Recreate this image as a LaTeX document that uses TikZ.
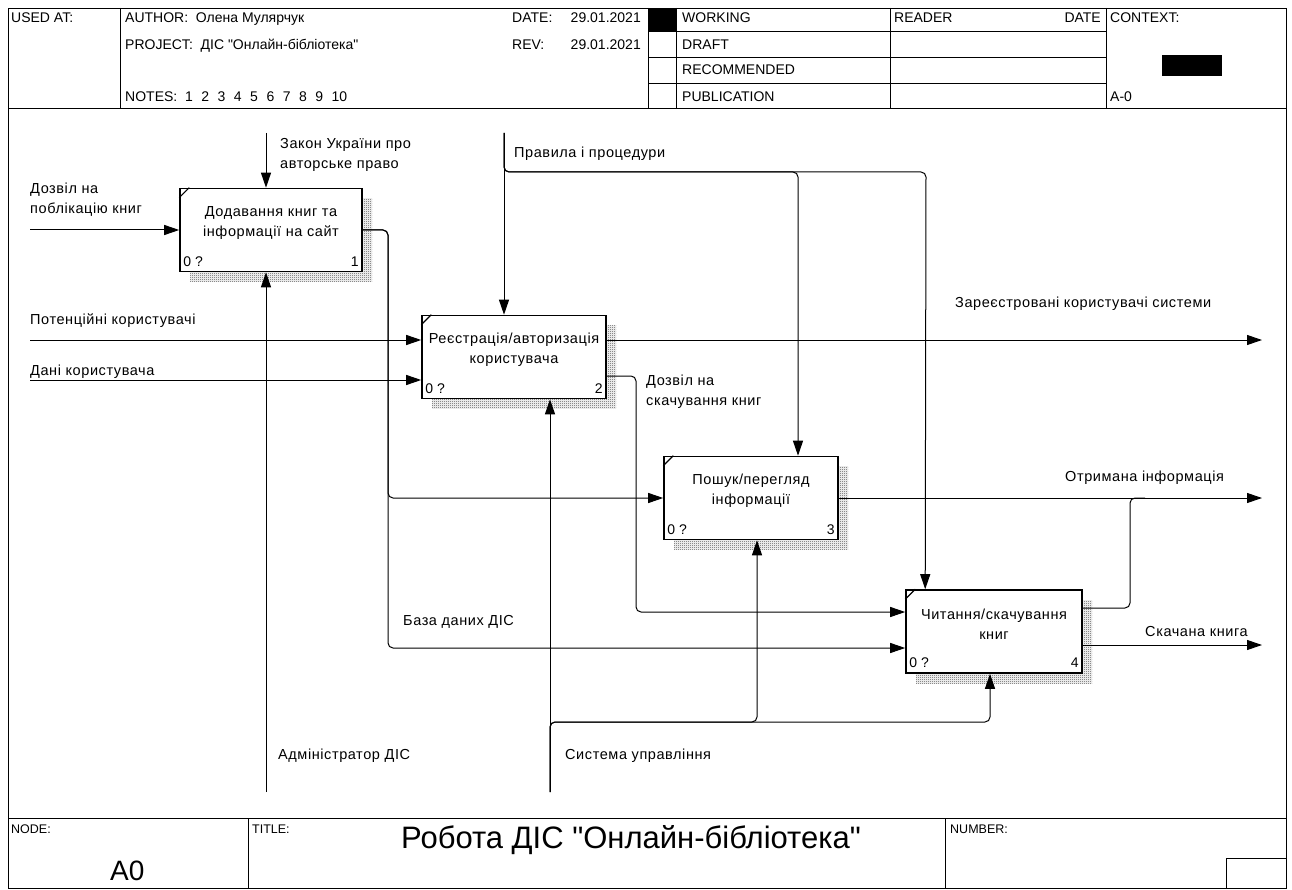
\documentclass[tikz,border=0pt]{standalone}
\usepackage{fontspec}
\setmainfont{Liberation Sans}[Ligatures = TeXOff]
\newfontfamily\diagfont{Liberation Sans}[Ligatures = TeXOff, LetterSpace = 4]
\usetikzlibrary{arrows.meta, patterns, shadows}

\pgfdeclarepatternformonly{idefshade}{\pgfpointorigin}{\pgfpoint{2pt}{2pt}}{\pgfpoint{2pt}{2pt}}{
	\pgfpathrectangle{\pgfpointorigin}{\pgfpoint{1pt}{1pt}}
	\pgfpathrectangle{\pgfpoint{1pt}{1pt}}{\pgfpoint{1pt}{1pt}}
	\pgfusepath{fill}
}

\begin{document}
\begin{tikzpicture}[x = 1pt, y = -1pt, > = {Triangle[length = 15pt, width = 10pt]},
	every node/.style = {font = \fontsize{14}{19}\selectfont, inner sep = 0pt},
	fn/.style = {draw, line width = 1.6pt, fill = white, minimum height = 83pt,
		drop shadow = {shadow xshift = 10pt, shadow yshift = -10pt, opacity = 1,
			fill = none, pattern = idefshade, pattern color = black!70}},
	fntxt/.style = {align = center, font = \diagfont\fontsize{14.5}{20}\selectfont},
	lbl/.style = {anchor = west, align = left, font = \diagfont\fontsize{14.5}{20}\selectfont},
	small/.style = {font = \fontsize{12.5}{14}\selectfont},
	wire/.style = {line width = 1pt, rounded corners = 5pt}]

	\useasboundingbox (0, 0) rectangle (1292, 890);

	% Frame, header and footer

	\draw [line width = 0.9pt] (8, 8) rectangle (1286, 888);
	\draw [line width = 0.9pt] (8, 108) -- (1286, 108);
	\draw [line width = 0.9pt] (8, 818) -- (1286, 818);

	\begin{scope}[line width = 0.7pt]
		\draw (120, 8) -- (120, 108);
		\draw (648, 8) -- (648, 108);
		\draw (676, 8) -- (676, 108);
		\draw (890, 8) -- (890, 108);
		\draw (1106, 8) -- (1106, 108);
		\draw (648, 31) -- (1106, 31);
		\draw (648, 57) -- (1106, 57);
		\draw (648, 83) -- (1106, 83);
		\draw (248, 818) -- (248, 888);
		\draw (945, 818) -- (945, 888);
		\draw (1226, 858) rectangle (1286, 888);
	\end{scope}

	\fill (648, 8) rectangle (676, 31);
	\fill (1162, 55) rectangle (1222, 76);

	\node [anchor = base west] (usedat) at (11, 23) {USED AT:};
	\node [anchor = base west] (author) at (125, 23) {AUTHOR:\ \ Олена Мулярчук};
	\node [anchor = base west] (project) at (125, 50) {PROJECT:\ \ ДІС "Онлайн-бібліотека"};
	\node [anchor = base west] (notes) at (125, 102) {NOTES:\ \ 1\hspace{8.5pt}2\hspace{8.5pt}3\hspace{8.5pt}4\hspace{8.5pt}5\hspace{8.5pt}6\hspace{8.5pt}7\hspace{8.5pt}8\hspace{8.5pt}9\hspace{8.5pt}10};
	\node [anchor = base west] (date) at (512, 23) {DATE:};
	\node [anchor = base east] (dateval) at (641, 23) {29.01.2021};
	\node [anchor = base west] (rev) at (512, 50) {REV:};
	\node [anchor = base east] (revval) at (641, 50) {29.01.2021};
	\node [anchor = base west] (working) at (682, 23) {WORKING};
	\node [anchor = base west] (draft) at (682, 50) {DRAFT};
	\node [anchor = base west] (recom) at (682, 75) {RECOMMENDED};
	\node [anchor = base west] (public) at (682, 102) {PUBLICATION};
	\node [anchor = base west] (reader) at (894, 23) {READER};
	\node [anchor = base east] (rdate) at (1101, 23) {DATE};
	\node [anchor = base west] (context) at (1110, 23) {CONTEXT:};
	\node [anchor = base west] (ctxnode) at (1110, 102) {A-0};

	\node [small, anchor = base west] (nodelbl) at (11, 833) {NODE:};
	\node [small, anchor = base west] (titlelbl) at (252, 833) {TITLE:};
	\node [small, anchor = base west] (numlbl) at (950, 833) {NUMBER:};
	\node [font = \fontsize{28}{30}\selectfont, anchor = base west] (nodeval) at (110, 880) {A0};
	\node [font = \fontsize{31}{34}\selectfont] (title) at (631, 840) {Робота ДІС "Онлайн-бібліотека"};

	% Function boxes

	\node [fn, minimum width = 182pt] (b1) at (271, 230) {};
	\node [fn, minimum width = 184pt] (b2) at (514, 357) {};
	\node [fn, minimum width = 174pt] (b3) at (751, 498) {};
	\node [fn, minimum width = 176pt] (b4) at (994, 631.5) {};

	\node [fntxt] (b1t) at ([yshift = 7]b1.center) {Додавання книг та\\інформації на сайт};
	\node [fntxt] (b2t) at ([yshift = 7]b2.center) {Реєстрація/авторизація\\користувача};
	\node [fntxt] (b3t) at ([yshift = 7]b3.center) {Пошук/перегляд\\інформації};
	\node [fntxt] (b4t) at ([yshift = 7]b4.center) {Читання/скачування\\книг};

	\foreach \b/\n in {b1/1, b2/2, b3/3, b4/4} {
		\draw [line width = 1.2pt] ([yshift = -10]\b.north west) -- ([xshift = 10]\b.north west);
		\node [anchor = base west] (\b z) at ([shift = {(4, -6)}]\b.south west) {0 ?};
		\node [anchor = base east] (\b n) at ([shift = {(-4, -6)}]\b.south east) {\n};
	}

	% Free ends of the arrows

	\coordinate (in1) at (30, 230);
	\coordinate (in2) at (30, 340);
	\coordinate (in3) at (30, 380);
	\coordinate (c1) at (266, 133);
	\coordinate (c2) at (504, 133);
	\coordinate (m1) at (266, 792);
	\coordinate (m2) at (550, 792);
	\coordinate (o1) at (1262, 340);
	\coordinate (o2) at (1262, 498);
	\coordinate (o3) at (1262, 645);

	% Arrows

	\begin{scope}[wire, ->]

		% inputs
		\draw (in1) -- (b1.west);
		\draw (in2) -- (in2 -| b2.west);
		\draw (in3) -- (in3 -| b2.west);

		% controls
		\draw (c1) -- (c1 |- b1.north);
		\draw (c2) -- (c2 |- b2.north);
		\draw (c2) |- (798, 172) -- ([xshift = 47]b3.north);
		\draw (c2) |- (926, 172) -- ([xshift = 20]b4.north west);

		% mechanisms
		\draw (m1) -- (m1 |- b1.south);
		\draw (m2) -- (m2 |- b2.south);
		\draw (m2) |- (757, 722) -- ([xshift = 6]b3.south);
		\draw (m2) |- (990, 722) -- ([xshift = -4]b4.south);

		% outputs
		\draw (b1.east) -| (388, 498) -- (b3.west);
		\draw (b1.east) -| (388, 648) -- ([yshift = -16.5]b4.west);
		\draw ([yshift = -19]b2.east) -| (636, 612) -- ([yshift = 19.5]b4.west);
		\draw ([yshift = 17]b2.east) -- (o1);
		\draw (b3.east) -- (o2);
		\draw [-] ([yshift = 23.5]b4.east) -| (1130, 498) -- (1145, 498);
		\draw ([yshift = -13.5]b4.east) -- (o3);

	\end{scope}

	% Arrow labels

	\node [lbl] (l1) at (30, 200) {Дозвіл на\\поблікацію книг};
	\node [lbl] (l2) at (280, 155) {Закон України про\\авторське право};
	\node [lbl] (l3) at (514, 154) {Правила і процедури};
	\node [lbl] (l4) at (30, 321) {Потенційні користувачі};
	\node [lbl] (l5) at (30, 372) {Дані користувача};
	\node [lbl] (l6) at (955, 304) {Зареєстровані користувачі системи};
	\node [lbl] (l7) at (646, 392) {Дозвіл на\\скачування книг};
	\node [lbl] (l8) at (1065, 478) {Отримана інформація};
	\node [lbl] (l9) at (1145, 632) {Скачана книга};
	\node [lbl] (l10) at (403, 622) {База даних ДІС};
	\node [lbl] (l11) at (278, 756) {Адміністратор ДІС};
	\node [lbl] (l12) at (565, 756) {Система управління};

\end{tikzpicture}
\end{document}
